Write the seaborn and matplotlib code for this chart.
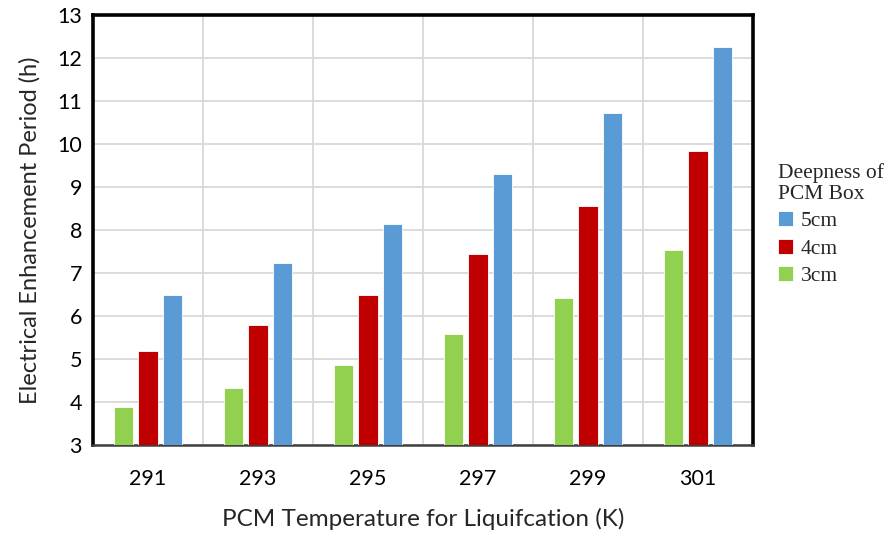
import matplotlib
matplotlib.use("Agg")
import matplotlib.pyplot as plt
import seaborn as sns
import pandas as pd
from matplotlib.ticker import FixedLocator

# Phase-change temperature (K) and enhancement period (h) per PCM box depth
temperatures = ["291", "293", "295", "297", "299", "301"]
period_3cm = [3.88, 4.32, 4.87, 5.57, 6.41, 7.53]
period_4cm = [5.19, 5.78, 6.50, 7.44, 8.55, 9.84]
period_5cm = [6.49, 7.23, 8.14, 9.31, 10.71, 12.26]
depths = ["3cm", "4cm", "5cm"]
colors = {"3cm": "#92D050", "4cm": "#C00000", "5cm": "#5B9BD5"}

df = pd.DataFrame({
    "Temperature": temperatures * 3,
    "Depth": ["3cm"] * 6 + ["4cm"] * 6 + ["5cm"] * 6,
    "Period": period_3cm + period_4cm + period_5cm,
})

sns.set_style("white")
plt.rcParams["font.family"] = ["Lato", "DejaVu Sans"]

fig = plt.figure(figsize=(8.88, 5.35), dpi=100)
ax = fig.add_axes([93 / 888, 90 / 535, 660 / 888, 430 / 535])

sns.barplot(data=df, x="Temperature", y="Period", hue="Depth",
            order=temperatures, hue_order=depths, palette=colors,
            saturation=1, width=0.67, gap=0.22, edgecolor="white",
            linewidth=0.6, ax=ax, legend=True, zorder=3)

ax.set_ylim(3, 13)
ax.set_xlim(-0.5, 5.5)
ax.set_yticks(range(3, 14))
ax.xaxis.set_minor_locator(FixedLocator([0.5, 1.5, 2.5, 3.5, 4.5]))
ax.grid(True, axis="y", which="major", color="#d9d9d9", linewidth=1.3, zorder=0)
ax.grid(True, axis="x", which="minor", color="#d9d9d9", linewidth=1.3, zorder=0)
ax.set_axisbelow(True)
ax.tick_params(axis="both", which="both", length=0, labelsize=15.5, colors="black")
ax.tick_params(axis="x", pad=17)
ax.tick_params(axis="y", pad=8)

for side in ["left", "top", "right"]:
    ax.spines[side].set_color("black")
    ax.spines[side].set_linewidth(2.6)
ax.spines["bottom"].set_color("#404040")
ax.spines["bottom"].set_linewidth(1.8)

ax.set_xlabel("PCM Temperature for Liquifcation (K)", fontsize=17.5, labelpad=14)
ax.set_ylabel("Electrical Enhancement Period (h)", fontsize=17, labelpad=12)

# Legend listed from deepest box to shallowest
ax.get_legend().remove()
handles, labels = ax.get_legend_handles_labels()
order = [labels.index(d) for d in ["5cm", "4cm", "3cm"]]
leg = fig.legend([handles[i] for i in order], [labels[i] for i in order],
                 title="Deepness of\nPCM Box", loc="upper left",
                 bbox_to_anchor=(769 / 888, 1 - 154 / 535), frameon=False,
                 prop={"family": "Liberation Serif", "size": 15.5},
                 title_fontproperties={"family": "Liberation Serif", "size": 15.5},
                 handlelength=0.7, handleheight=0.7, handletextpad=0.37,
                 labelspacing=0.33, alignment="left", borderaxespad=0)

fig.savefig("out.png", dpi=100)
